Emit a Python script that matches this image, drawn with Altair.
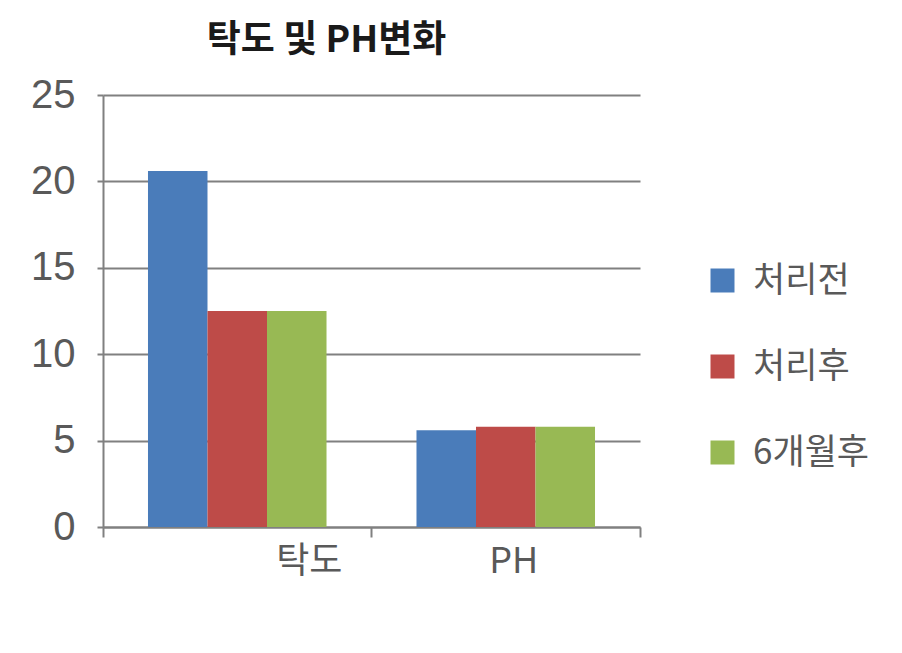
import altair as alt
import pandas as pd

categories = ["탁도", "PH"]
series = ["처리전", "처리후", "6개월후"]
values_before = [20.6, 5.6]
values_after = [12.5, 5.8]
values_6m = [12.5, 5.8]
colors = ["#4A7CBA", "#BE4B48", "#98B954"]

rows = []
for i, c in enumerate(categories):
    for s, vals in zip(series, [values_before, values_after, values_6m]):
        rows.append({"cat": c, "series": s, "value": vals[i]})
df = pd.DataFrame(rows)

KR = "Noto Sans CJK KR"
NUM = "Liberation Sans Narrow, Liberation Sans"
GRAY = "#595959"
LINE = "#808080"

chart = alt.Chart(df).mark_bar().encode(
    x=alt.X("cat:N", sort=categories, title=None,
            scale=alt.Scale(paddingInner=0, paddingOuter=0),
            axis=alt.Axis(bandPosition=1, tickExtra=True, labelAngle=0,
                          tickSize=10, tickWidth=2, tickColor=LINE,
                          domainColor=LINE, domainWidth=2,
                          labelFont=KR, labelFontSize=36, labelColor=GRAY,
                          labelPadding=7,
                          labelOffset={"condition": {"test": "datum.value === '탁도'", "value": 72}, "value": 8},
                          grid=False)),
    xOffset=alt.XOffset("series:N", sort=series,
                        scale=alt.Scale(paddingInner=0, paddingOuter=0.756)),
    y=alt.Y("value:Q", title=None,
            scale=alt.Scale(domain=[0, 25]),
            axis=alt.Axis(values=[0, 5, 10, 15, 20, 25], tickSize=6, tickWidth=2,
                          tickColor=LINE, domainColor=LINE, domainWidth=2,
                          gridColor=LINE, gridWidth=2,
                          labelFont=NUM, labelFontSize=40, labelColor=GRAY,
                          labelPadding=22)),
    color=alt.Color("series:N", sort=series, title=None,
                    scale=alt.Scale(domain=series, range=colors),
                    legend=alt.Legend(orient="none", legendX=602, legendY=168,
                                      symbolType="square", symbolSize=576,
                                      symbolStrokeWidth=0, labelFont=KR,
                                      labelFontSize=35, labelColor=GRAY,
                                      labelOffset=13, rowPadding=50, padding=0)),
).properties(
    width=537, height=432,
    title=alt.TitleParams("탁도 및 PH변화", font=KR, fontSize=37, fontWeight="bold",
                          color="#1a1a1a", anchor="middle", dx=-45, dy=34, offset=20,
                          baseline="alphabetic"),
    autosize=alt.AutoSizeParams(type="none"),
    padding={"left": 95, "top": 87, "right": 240, "bottom": 110},
).configure_view(stroke=None)

chart.save("out.html", embed_options={"renderer": "svg", "actions": False})
